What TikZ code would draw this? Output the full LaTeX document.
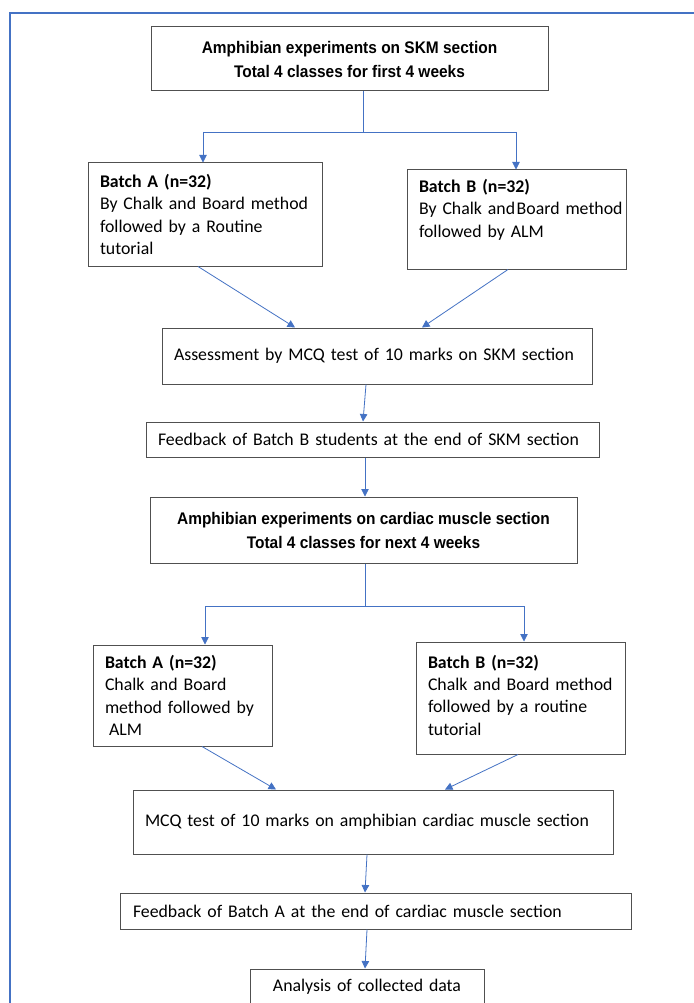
\documentclass[tikz,border=0pt]{standalone}
\usepackage{fontspec}
\setmainfont{Carlito}
\newfontfamily\hdfont[FakeStretch=0.92]{Liberation Sans}
\usetikzlibrary{arrows.meta}
\definecolor{boxline}{HTML}{505050}
\definecolor{connblue}{HTML}{4472C4}
\newcommand{\ml}[1]{\mbox{#1}}
\begin{document}
\begin{tikzpicture}[x=1pt,y=1pt,
  box/.style={draw=boxline, line width=1pt, rectangle, inner ysep=0pt, font=\fontsize{17.8}{22.3}\selectfont, align=left},
  head/.style={draw=boxline, line width=1pt, rectangle, inner sep=0pt, font=\hdfont\bfseries\fontsize{16.8}{24}\selectfont, align=center},
  conn/.style={draw=connblue, line width=0.8pt},
  arr/.style={conn, -{Triangle[length=7.5pt,width=7.5pt]}},
]
\useasboundingbox (0,0) rectangle (693,-1003);
\fill[white] (0,0) rectangle (693,-1003);
\draw[connblue, line width=1.6pt] (10,-1010) -- (10,-13) -- (700,-13);

% nodes
\node[head, minimum width=397pt, minimum height=64pt] (top) at (349.5,-59)
  {Amphibian experiments on SKM section\\Total 4 classes for first 4 weeks};
\node[box, text width=210pt, inner xsep=12pt, minimum height=103pt] (a1) at (205,-214.5)
  {\ml{\textbf{Batch A (n=32)}}\\\ml{By Chalk and Board method}\\\ml{followed by a Routine}\\\ml{tutorial}};
\node[box, text width=195pt, inner xsep=12pt, minimum height=99pt] (b1) at (516.5,-219.5)
  {\ml{\textbf{Batch B (n=32)}}\\\ml{By Chalk and\hspace{1.5pt}Board method}\\\ml{followed by ALM}\\\mbox{}};
\node[box, text width=406pt, inner xsep=12pt, minimum height=56pt] (assess) at (377,-356)
  {\ml{Assessment by MCQ test of 10 marks on SKM section}};
\node[box, text width=429pt, inner xsep=12pt, minimum height=35pt] (fbB) at (372.5,-439.5)
  {\ml{Feedback of Batch B students at the end of SKM section}};
\node[head, minimum width=427pt, minimum height=66pt] (box2) at (363.5,-530)
  {Amphibian experiments on cardiac muscle section\\Total 4 classes for next 4 weeks};
\node[box, text width=155pt, inner xsep=12pt, minimum height=101pt] (a2) at (182.5,-695.5)
  {\ml{\textbf{Batch A (n=32)}}\\\ml{Chalk and Board}\\\ml{method followed by}\\\ml{\hspace{4pt}ALM}};
\node[box, text width=185pt, inner xsep=12pt, minimum height=112pt] (b2) at (520.5,-698)
  {\ml{\textbf{Batch B (n=32)}}\\\ml{Chalk and Board method}\\\ml{followed by a routine}\\\ml{tutorial}\\[-16.3pt]\mbox{}};
\node[box, text width=456pt, inner xsep=12pt, minimum height=64pt] (mcq) at (373,-822)
  {\ml{MCQ test of 10 marks on amphibian cardiac muscle section}};
\node[box, text width=485pt, inner xsep=13pt, minimum height=36pt] (fbA) at (375.5,-911)
  {\ml{Feedback of Batch A at the end of cardiac muscle section}};
\node[box, align=center, text width=234pt, inner xsep=0pt, minimum height=36pt] (ana) at (367,-987)
  {Analysis of collected data};

% junctions
\coordinate (j1) at (363,-132);
\coordinate (jL1) at (203,-132);
\coordinate (jR1) at (516,-132);
\coordinate (j2) at (365,-606);
\coordinate (jL2) at (205,-606);
\coordinate (jR2) at (524,-606);

% connectors
\draw[conn] ([xshift=13.5pt]top.south) -- (j1);
\draw[conn] (jL1) -- (jR1);
\draw[arr] (jL1) -- (jL1 |- a1.north);
\draw[arr] (jR1) -- (jR1 |- b1.north);
\draw[arr] ([xshift=-7pt]a1.south) -- ([xshift=-82pt]assess.north);
\draw[arr] ([xshift=-8.5pt]b1.south) -- ([xshift=45pt]assess.north);
\draw[arr] ([xshift=-11pt]assess.south) -- ([xshift=-9.5pt]fbB.north);
\draw[arr] ([xshift=-7.5pt]fbB.south) -- ([xshift=1.5pt]box2.north);
\draw[conn] ([xshift=1.5pt]box2.south) -- (j2);
\draw[conn] (jL2) -- (jR2);
\draw[arr] (jL2) -- (jL2 |- a2.north);
\draw[arr] (jR2) -- (jR2 |- b2.north);
\draw[arr] ([xshift=19.5pt]a2.south) -- ([xshift=-97pt]mcq.north);
\draw[arr] ([xshift=-2.5pt]b2.south) -- ([xshift=72pt]mcq.north);
\draw[arr] ([xshift=-6pt]mcq.south) -- ([xshift=-10.5pt]fbA.north);
\draw[arr] ([xshift=-8.5pt]fbA.south) -- ([xshift=-2pt]ana.north);
\end{tikzpicture}
\end{document}
